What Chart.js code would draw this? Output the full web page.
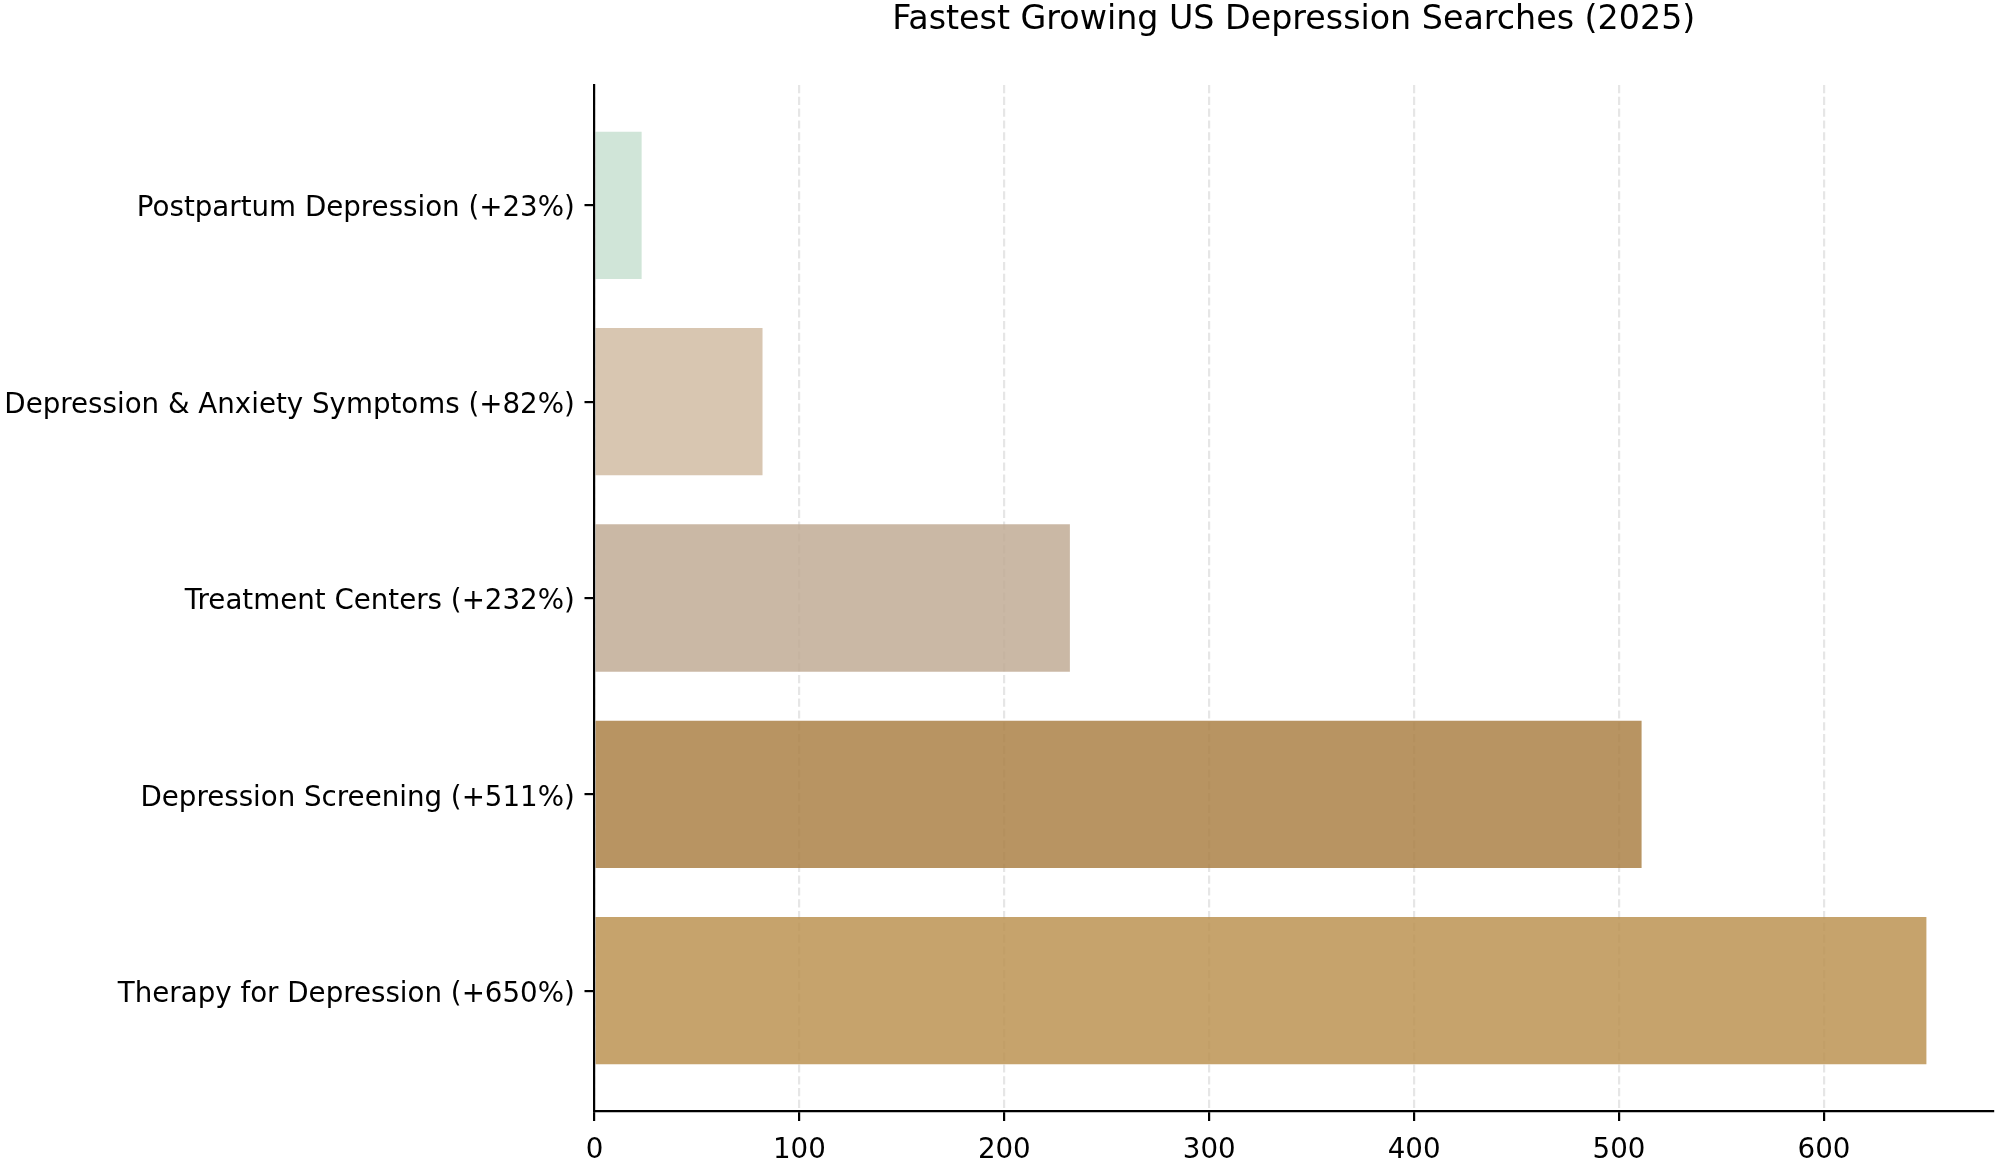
<!DOCTYPE html>
<html>
<head>
<meta charset="utf-8">
<script src="https://cdn.jsdelivr.net/npm/chart.js@4.4.1/dist/chart.umd.min.js"></script>
<style>
  html, body { margin: 0; padding: 0; background: #ffffff; }
  #wrap { width: 1995px; height: 1164px; position: relative; }
</style>
</head>
<body>
<div id="wrap"><canvas id="c" width="1995" height="1164"></canvas></div>
<script>
// Categories listed bottom to top (as in the reference)
const categories = [
  "Therapy for Depression (+650%)",
  "Depression Screening (+511%)",
  "Treatment Centers (+232%)",
  "Depression & Anxiety Symptoms (+82%)",
  "Postpartum Depression (+23%)"
];
const growthValues = [650, 511, 232, 82, 23];
const barColors = [
  "rgba(188,147,82,0.85)",
  "rgba(172,129,70,0.85)",
  "rgba(193,172,149,0.85)",
  "rgba(209,188,163,0.85)",
  "rgba(200,224,209,0.85)"
];
const xTickValues = [0, 100, 200, 300, 400, 500, 600];
const chartTitle = "Fastest Growing US Depression Searches (2025)";

const FONT = "'DejaVu Sans', 'Liberation Sans', sans-serif";
const pts = growthValues.map((v, i) => ({ x: v, y: i }));

Chart.defaults.font.family = FONT;
Chart.defaults.color = "#000";
Chart.defaults.devicePixelRatio = 1;

new Chart(document.getElementById("c"), {
  type: "bar",
  data: {
    datasets: [{
      data: pts,
      backgroundColor: barColors,
      borderWidth: 0,
      categoryPercentage: 1.0,
      barPercentage: 0.75
    }]
  },
  options: {
    indexAxis: "y",
    responsive: false,
    animation: false,
    layout: { padding: { left: 0, right: 2, top: 0, bottom: 0 } },
    plugins: {
      legend: { display: false },
      tooltip: { enabled: false },
      title: {
        display: true,
        text: chartTitle,
        fullSize: false,
        align: "center",
        color: "#000",
        font: { family: FONT, size: 33.3, weight: "normal", lineHeight: 1.15 },
        padding: { top: 1.5, bottom: 45.2 }
      }
    },
    scales: {
      x: {
        type: "linear",
        position: "bottom",
        min: 0,
        max: 682.5,
        afterBuildTicks: (s) => { s.ticks = xTickValues.map(v => ({ value: v })); },
        afterFit: (s) => { s.height = 53; },
        ticks: {
          font: { family: FONT, size: 27.7 },
          color: "#000",
          padding: 13,
          maxRotation: 0,
          autoSkip: false
        },
        grid: {
          display: true,
          drawOnChartArea: true,
          drawTicks: true,
          color: "rgba(200,200,200,0.45)",
          lineWidth: 2.2,
          tickLength: 10,
          tickColor: "#000",
          tickWidth: 2.2,
          tickBorderDash: []
        },
        border: { display: true, color: "#000", width: 2.2, dash: [8.2, 3.6], z: 1 }
      },
      y: {
        type: "linear",
        position: "left",
        min: -0.6125,
        max: 4.6125,
        offset: false,
        afterBuildTicks: (s) => { s.ticks = categories.map((_, i) => ({ value: i })); },
        afterFit: (s) => { s.width = 594.5; },
        ticks: {
          font: { family: FONT, size: 27.7 },
          color: "#000",
          padding: 9.7,
          labelOffset: 4,
          autoSkip: false,
          callback: (v) => categories[v]
        },
        grid: {
          display: true,
          offset: false,
          drawOnChartArea: false,
          drawTicks: true,
          tickLength: 10,
          tickColor: "#000",
          tickWidth: 2.2,
          color: "#000",
          lineWidth: 2.2
        },
        border: { display: true, color: "#000", width: 2.2, z: 1 }
      }
    }
  }
});
</script>
</body>
</html>
